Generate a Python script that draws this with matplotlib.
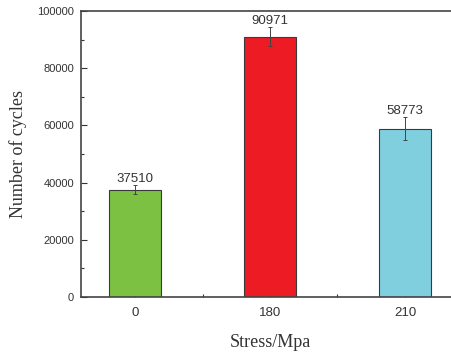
import matplotlib
matplotlib.use("Agg")
import matplotlib.pyplot as plt
from matplotlib.ticker import MultipleLocator, FixedLocator

stress = ["0", "180", "210"]
cycles = [37510, 90971, 58773]
errors = [1500, 3300, 4000]
colors = ["#7dc142", "#ed1c24", "#80cfdf"]

fig = plt.figure(figsize=(4.52, 3.56), dpi=100)
ax = fig.add_axes([81 / 452, 1 - 297 / 356, (459 - 81) / 452, (297 - 11) / 356])

x = list(range(len(stress)))
ax.bar(x, cycles, width=0.385, color=colors, edgecolor="#3a3a3a", linewidth=0.8, zorder=2)
ax.errorbar(x, cycles, yerr=errors, fmt="none", ecolor="#444444", elinewidth=0.7,
            capsize=1.5, capthick=0.7, zorder=3)

for xi, v, e in zip(x, cycles, errors):
    ax.annotate(f"{v}", (xi, v + e), xytext=(0, 0.5), textcoords="offset points",
                ha="center", va="bottom", fontsize=9.5, color="#333333",
                family="Liberation Sans")

ax.set_xlim(-0.4, 2.4)
ax.set_ylim(0, 100000)
ax.set_xticks(x)
ax.set_xticklabels(stress)
ax.xaxis.set_minor_locator(FixedLocator([0.5, 1.5]))
ax.yaxis.set_major_locator(MultipleLocator(20000))
ax.yaxis.set_minor_locator(MultipleLocator(10000))

ax.tick_params(which="both", direction="in", top=False, right=False, color="#333333",
               labelsize=8, labelcolor="#333333", width=0.8)
ax.tick_params(which="major", length=4, pad=5)
ax.tick_params(which="minor", length=2.5)
for lab in ax.get_xticklabels() + ax.get_yticklabels():
    lab.set_family("Liberation Sans")
ax.tick_params(axis="x", labelsize=9.5, pad=7)

for s in ax.spines.values():
    s.set_color("#444444")
    s.set_linewidth(1.2)

ax.set_xlabel("Stress/Mpa", fontsize=13, family="Liberation Serif", color="#333333", labelpad=11)
ax.set_ylabel("Number of cycles", fontsize=13, family="Liberation Serif", color="#333333", labelpad=7)

fig.savefig("out.png", dpi=100)
